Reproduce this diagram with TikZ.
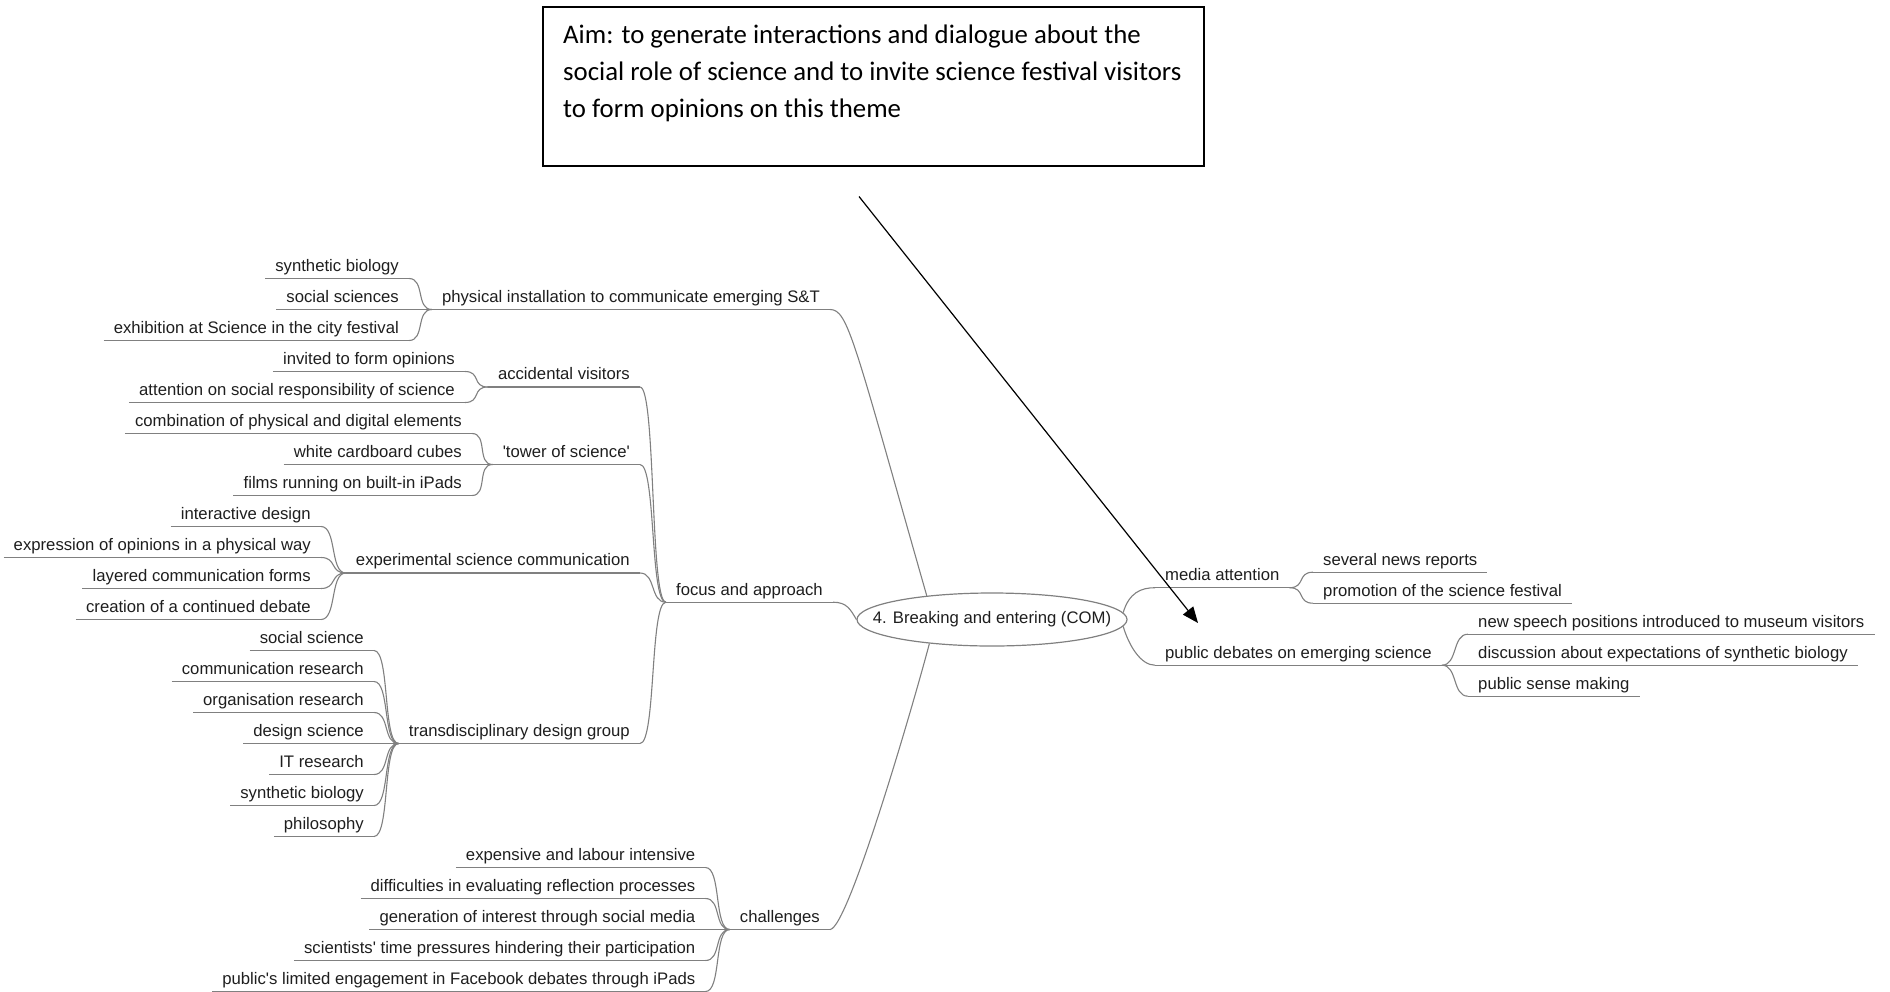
\documentclass[tikz,border=0pt]{standalone}
\usepackage{fontspec}
\setmainfont{Liberation Sans}
\newfontfamily\aimfamily{Carlito}
\usetikzlibrary{shapes.geometric,arrows.meta}
\newcommand\mapfnt{\fontsize{16.7}{19.5}\selectfont}
\newcommand\aimfnt{\aimfamily\fontsize{26.8}{37.4}\selectfont}
\definecolor{mapgray}{RGB}{128,128,128}
\definecolor{maptext}{RGB}{30,30,30}
\begin{document}
\begin{tikzpicture}[x=1pt,y=-1pt,
  mapline/.style={draw=mapgray,line width=1.1pt},
  mapnode/.style={font=\mapfnt,text=maptext,inner xsep=10pt,inner ysep=3.5pt,
    text height=12pt,text depth=3.5pt,
    append after command={(\tikzlastnode.south west) edge[mapline] (\tikzlastnode.south east)}},
  lnode/.style={mapnode,anchor=base east},
  rnode/.style={mapnode,anchor=base west},
  rootnode/.style={ellipse,draw=mapgray,line width=1.2pt,minimum width=270pt,
    minimum height=53pt,inner sep=0pt},
  aimbox/.style={draw=black,line width=1.5pt,minimum width=661pt,minimum height=159pt,
    inner sep=0pt,anchor=north west},
  aimtext/.style={font=\aimfnt,text=black,align=left,inner sep=0pt,anchor=north west},
  pointer/.style={draw=black,line width=1.2pt,-{Triangle[length=16pt,width=13pt]}}]

\useasboundingbox (0,0) rectangle (1890,991);

% aim statement
\node[aimbox] (aim) at (542,6) {};
\node[aimtext] (aimtxt) at (563,24.2) {Aim: to generate interactions and dialogue about the\\
social role of science and to invite science festival visitors\\
to form opinions on this theme};

% central topic
\node[rootnode,label={[font=\mapfnt,text=maptext]center:4. Breaking and entering (COM)}] (root) at (992,619.5) {};

% physical installation branch
\node[lnode] (pa) at (409,271.3) {synthetic biology};
\node[lnode] (pb) at (409,302.3) {social sciences};
\node[lnode] (pc) at (409,333.3) {exhibition at Science in the city festival};
\node[lnode] (phys) at (830,302.3) {physical installation to communicate emerging S\&T};

% focus and approach branch
\node[lnode] (va) at (465,364.3) {invited to form opinions};
\node[lnode] (vb) at (465,395.3) {attention on social responsibility of science};
\node[lnode] (visit) at (640,379.8) {accidental visitors};

\node[lnode] (ta) at (472,426.3) {combination of physical and digital elements};
\node[lnode] (tb) at (472,457.3) {white cardboard cubes};
\node[lnode] (tc) at (472,488.3) {films running on built-in iPads};
\node[lnode] (tower) at (640,457.3) {\textquotesingle tower of science\textquotesingle};

\node[lnode] (ea) at (321,519.3) {interactive design};
\node[lnode] (eb) at (321,550.3) {expression of opinions in a physical way};
\node[lnode] (ec) at (321,581.3) {layered communication forms};
\node[lnode] (ed) at (321,612.3) {creation of a continued debate};
\node[lnode] (exper) at (640,565.8) {experimental science communication};

\node[lnode] (da) at (374,643.3) {social science};
\node[lnode] (db) at (374,674.3) {communication research};
\node[lnode] (dc) at (374,705.3) {organisation research};
\node[lnode] (dd) at (374,736.3) {design science};
\node[lnode] (de) at (374,767.3) {IT research};
\node[lnode] (df) at (374,798.3) {synthetic biology};
\node[lnode] (dg) at (374,829.3) {philosophy};
\node[lnode] (design) at (640,736.3) {transdisciplinary design group};

\node[lnode] (focus) at (833,595) {focus and approach};

% challenges branch
\node[lnode] (ca) at (705.5,860.3) {expensive and labour intensive};
\node[lnode] (cb) at (705.5,891.3) {difficulties in evaluating reflection processes};
\node[lnode] (cc) at (705.5,922.3) {generation of interest through social media};
\node[lnode] (cd) at (705.5,953.3) {scientists\textquotesingle{} time pressures hindering their participation};
\node[lnode] (ce) at (705.5,984.3) {public\textquotesingle s limited engagement in Facebook debates through iPads};
\node[lnode] (chal) at (830,922.3) {challenges};

% right-hand branches
\node[rnode] (media) at (1155,580.5) {media attention};
\node[rnode] (ma) at (1313,565) {several news reports};
\node[rnode] (mb) at (1313,596) {promotion of the science festival};
\node[rnode] (public) at (1155,658) {public debates on emerging science};
\node[rnode] (qa) at (1468,627) {new speech positions introduced to museum visitors};
\node[rnode] (qb) at (1468,658) {discussion about expectations of synthetic biology};
\node[rnode] (qc) at (1468,689) {public sense making};

% left-hand connectors (child on the left, parent on the right)
\foreach \c/\p in {pa/phys,pb/phys,pc/phys,va/visit,vb/visit,ta/tower,tb/tower,tc/tower,
    ea/exper,eb/exper,ec/exper,ed/exper,da/design,db/design,dc/design,dd/design,
    de/design,df/design,dg/design,visit/focus,tower/focus,exper/focus,design/focus,
    ca/chal,cb/chal,cc/chal,cd/chal,ce/chal}
  \draw[mapline] (\c.south east) .. controls +(16,0) and +(-16,0) .. (\p.south west);

% right-hand connectors (parent on the left, child on the right)
\foreach \p/\c in {media/ma,media/mb,public/qa,public/qb,public/qc}
  \draw[mapline] (\p.south east) .. controls +(16,0) and +(-16,0) .. (\c.south west);

% connectors to the central topic
\draw[mapline] (phys.south east) .. controls +(18,0) and +(-73,-256) .. (root.160);
\draw[mapline] (focus.south east) .. controls +(14,0) and +(-6,-10) .. (root.west);
\draw[mapline] (chal.south east) .. controls +(18,0) and +(-15,57) .. (root.201);
\draw[mapline] (root.3) .. controls +(6,-20) and +(-14,0) .. (media.south west);
\draw[mapline] (root.357) .. controls +(6,20) and +(-14,0) .. (public.south west);

% pointer from the aim statement
\coordinate (ptail) at (859,196.5);
\coordinate (ptip) at (1198,623);
\draw[pointer] (ptail) -- (ptip);
\end{tikzpicture}
\end{document}
